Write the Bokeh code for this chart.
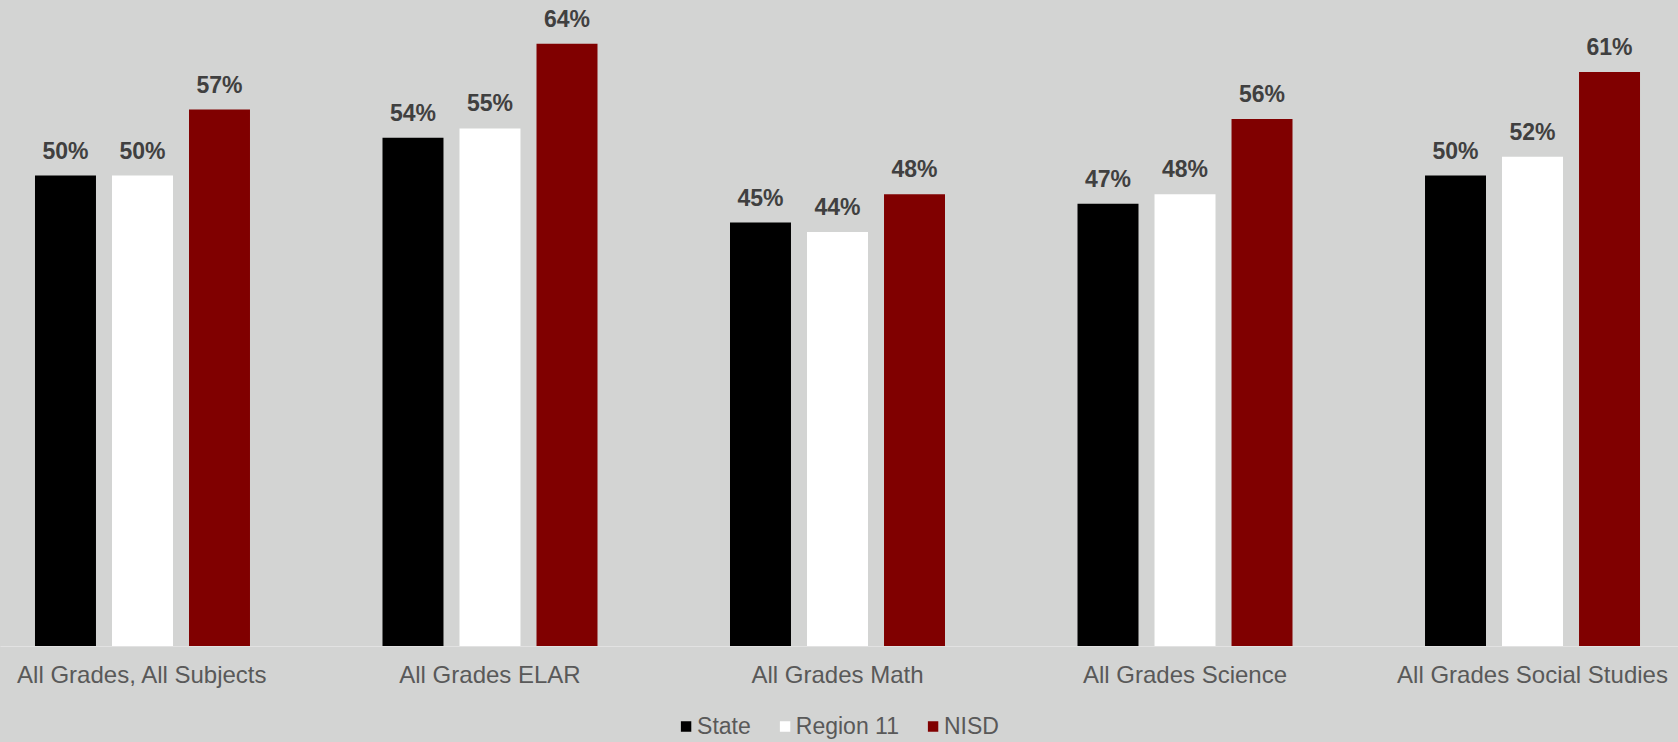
from bokeh.plotting import figure
from bokeh.layouts import column
from bokeh.models import ColumnDataSource, FixedTicker, Legend, LegendItem, Range1d
from bokeh.transform import dodge
from bokeh.core.properties import value
from bokeh.embed import file_html
from bokeh.resources import INLINE

categories = ["All Grades, All Subjects", "All Grades ELAR", "All Grades Math",
              "All Grades Science", "All Grades Social Studies"]
series_names = ["State", "Region 11", "NISD"]
state = [50, 54, 45, 47, 50]
region11 = [50, 55, 44, 48, 52]
nisd = [57, 64, 48, 56, 61]
colors = ["#000000", "#FFFFFF", "#800000"]

BG = "#D3D4D3"
FONT = "Liberation Sans"

xs = list(range(len(categories)))
src = ColumnDataSource(dict(
    x=xs,
    state=state, region=region11, nisd=nisd,
    state_l=[f"{v}%" for v in state],
    region_l=[f"{v}%" for v in region11],
    nisd_l=[f"{v}%" for v in nisd],
))

W = 1678
H_MAIN, H_LEG = 710, 32
p = figure(width=W, height=H_MAIN, output_backend="svg", toolbar_location=None,
           x_range=Range1d(-0.4086, 4.4201), y_range=Range1d(0, 68.58),
           min_border_left=0, min_border_right=0, min_border_top=0,
           min_border_bottom=64, y_axis_location=None,
           background_fill_color=BG, border_fill_color=BG, outline_line_color=None)
p.grid.visible = False

off = 0.2216
bw = 0.1755
cols = [("state", "state_l"), ("region", "region_l"), ("nisd", "nisd_l")]
for i, (col, lab) in enumerate(cols):
    d = (i - 1) * off
    p.vbar(x=dodge("x", d, range=p.x_range), top=col, width=bw, bottom=0,
           source=src, fill_color=colors[i], line_color=None)
    p.text(x=dodge("x", d, range=p.x_range), y=col, text=lab, source=src,
           text_font=value(FONT), text_font_style="bold", text_font_size="23px",
           text_color="#404040", text_align="center", text_baseline="alphabetic",
           y_offset=-25)

ax = p.xaxis[0]
ax.ticker = FixedTicker(ticks=xs)
ax.major_label_overrides = {i: c for i, c in enumerate(categories)}
ax.major_tick_line_color = None
ax.minor_tick_line_color = None
ax.axis_line_color = "#E2E2E2"
ax.axis_line_width = 1
ax.major_label_text_font = FONT
ax.major_label_text_font_size = "24px"
ax.major_label_text_color = "#595959"
ax.major_label_standoff = 8

# legend strip (its bars lie below the visible y range; only the legend shows)
lf = figure(width=W, height=H_LEG, output_backend="svg", toolbar_location=None,
            x_range=Range1d(-0.4086, 4.4201), y_range=Range1d(1000, 1001),
            min_border=0, x_axis_location=None, y_axis_location=None,
            background_fill_color=BG, border_fill_color=BG, outline_line_color=None)
lf.grid.visible = False
leg_renderers = []
for i, (col, lab) in enumerate(cols):
    r = lf.vbar(x="x", top=col, bottom=0, width=bw, source=src,
                fill_color=colors[i], line_color=None)
    leg_renderers.append(r)
legend = Legend(items=[LegendItem(label=n, renderers=[r]) for n, r in zip(series_names, leg_renderers)],
                orientation="horizontal", location="center",
                background_fill_alpha=0, border_line_color=None,
                label_text_font=FONT, label_text_font_size="23px", label_text_color="#595959",
                glyph_width=13, glyph_height=13, label_standoff=5, spacing=27,
                padding=0, margin=0, label_height=24)
lf.add_layout(legend, "center")

layout = column(p, lf, spacing=0)

html = file_html(layout, INLINE)
html = html.replace("<head>", "<head><style>body{background:#D3D4D3;}</style>", 1)
open("out.html", "w").write(html)
